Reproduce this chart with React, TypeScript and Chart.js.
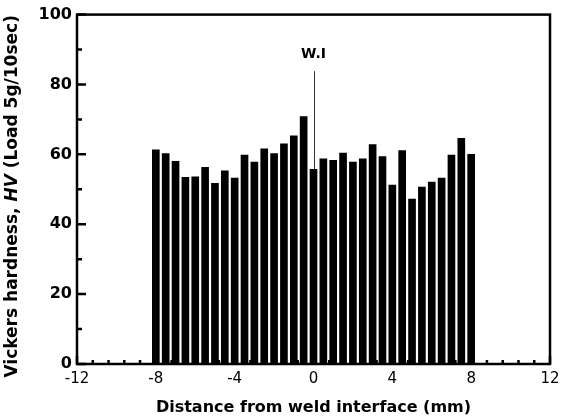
import React, { useEffect, useRef } from "react";
import { Chart, registerables } from "chart.js";

Chart.register(...registerables);

// Positions (mm) and Vickers hardness values
const positions: number[] = [
  -8, -7.5, -7, -6.5, -6, -5.5, -5, -4.5, -4, -3.5, -3, -2.5, -2, -1.5, -1, -0.5,
  0, 0.5, 1, 1.5, 2, 2.5, 3, 3.5, 4, 4.5, 5, 5.5, 6, 6.5, 7, 7.5, 8,
];
const hardness: number[] = [
  61.3, 60.2, 58.0, 53.4, 53.6, 56.3, 51.7, 55.3, 53.2, 59.8, 57.8, 61.6, 60.2, 63.0, 65.3, 70.8,
  55.7, 58.7, 58.3, 60.4, 57.8, 58.7, 62.8, 59.4, 51.2, 61.1, 47.2, 50.6, 52.1, 53.2, 59.8, 64.6, 60.0,
];

const xMajorTicks: number[] = [-12, -8, -4, 0, 4, 8, 12];
const xMinorTicks: number[] = [
  -11.2, -10.4, -9.6, -8.8, -7.2, -6.4, -5.6, -4.8, -3.2, -2.4, -1.6, -0.8,
  0.8, 1.6, 2.4, 3.2, 4.8, 5.6, 6.4, 7.2, 8.8, 9.6, 10.4, 11.2,
];
const yMajorTicks: number[] = [0, 20, 40, 60, 80, 100];
const yMinorTicks: number[] = [10, 30, 50, 70, 90];

const wiLabel = "W.I";
const wiX = 0;
const wiLineTop = 83.8;
const wiLabelY = 88.6;

const xTitle = "Distance from weld interface (mm)";
const yTitleParts: { text: string; italic: boolean }[] = [
  { text: "Vickers hardness, ", italic: false },
  { text: "HV", italic: true },
  { text: " (Load 5g/10sec)", italic: false },
];

const FONT = "'DejaVu Sans', Verdana, sans-serif";

const decorPlugin = {
  id: "decor",
  beforeDatasetsDraw(chart: any) {
    const { ctx, chartArea: a, scales } = chart;
    const x = scales.x;
    const y = scales.y;
    ctx.save();
    ctx.strokeStyle = "#000";
    ctx.lineWidth = 2.5;
    ctx.lineCap = "butt";
    ctx.beginPath();
    for (const v of xMajorTicks) {
      const px = x.getPixelForValue(v);
      ctx.moveTo(px, a.bottom);
      ctx.lineTo(px, a.bottom - 8);
    }
    for (const v of xMinorTicks) {
      const px = x.getPixelForValue(v);
      ctx.moveTo(px, a.bottom);
      ctx.lineTo(px, a.bottom - 4);
    }
    for (const v of yMajorTicks) {
      const py = y.getPixelForValue(v);
      ctx.moveTo(a.left, py);
      ctx.lineTo(a.left + 9, py);
    }
    for (const v of yMinorTicks) {
      const py = y.getPixelForValue(v);
      ctx.moveTo(a.left, py);
      ctx.lineTo(a.left + 5, py);
    }
    ctx.stroke();
    ctx.restore();
  },
  afterDatasetsDraw(chart: any) {
    const { ctx, chartArea: a, scales } = chart;
    const x = scales.x;
    const y = scales.y;
    ctx.save();
    // frame
    ctx.strokeStyle = "#000";
    ctx.lineWidth = 2.5;
    ctx.strokeRect(a.left, a.top, a.right - a.left, a.bottom - a.top);

    // W.I marker line
    const idx = positions.indexOf(wiX);
    const px = Math.round(x.getPixelForValue(wiX)) + 0.5;
    ctx.strokeStyle = "#333";
    ctx.lineWidth = 1;
    ctx.beginPath();
    ctx.moveTo(px, y.getPixelForValue(wiLineTop));
    ctx.lineTo(px, y.getPixelForValue(hardness[idx]));
    ctx.stroke();

    ctx.fillStyle = "#000";
    ctx.font = `bold 14px ${FONT}`;
    ctx.textAlign = "center";
    ctx.textBaseline = "middle";
    ctx.fillText(wiLabel, x.getPixelForValue(wiX), y.getPixelForValue(wiLabelY));

    // y title with italic part
    ctx.translate(13, (a.top + a.bottom) / 2 + 7);
    ctx.rotate(-Math.PI / 2);
    const fonts = yTitleParts.map((p) => `${p.italic ? "italic " : ""}bold 17px ${FONT}`);
    let total = 0;
    const widths = yTitleParts.map((p, i) => {
      ctx.font = fonts[i];
      const w = ctx.measureText(p.text).width;
      total += w;
      return w;
    });
    let cx = -total / 2;
    ctx.textAlign = "left";
    ctx.textBaseline = "middle";
    yTitleParts.forEach((p, i) => {
      ctx.font = fonts[i];
      ctx.fillText(p.text, cx, 0);
      cx += widths[i];
    });
    ctx.restore();
  },
};

export default function App() {
  const ref = useRef<HTMLCanvasElement | null>(null);

  useEffect(() => {
    if (!ref.current) return;
    const chart = new Chart(ref.current, {
      type: "bar",
      data: {
        datasets: [
          {
            data: positions.map((p, i) => ({ x: p, y: hardness[i] })),
            backgroundColor: "#000",
            borderWidth: 0,
            barThickness: 7,
          },
        ],
      },
      options: {
        responsive: false,
        animation: false,
        layout: { padding: { top: 13, right: 18, left: 0, bottom: 0 } },
        plugins: {
          legend: { display: false },
          tooltip: { enabled: false },
        },
        scales: {
          x: {
            type: "linear",
            offset: false,
            min: -12,
            max: 12,
            grid: { display: false, drawTicks: false, offset: false },
            border: { display: false },
            ticks: {
              stepSize: 4,
              color: "#000",
              padding: 6,
              font: { family: FONT, size: 15 },
            },
            title: {
              display: true,
              text: xTitle,
              color: "#000",
              font: { family: FONT, size: 16, weight: "bold" },
              padding: { top: 0, bottom: 2 },
            },
            afterFit(scale: any) {
              scale.height = 55;
            },
          },
          y: {
            type: "linear",
            min: 0,
            max: 100,
            grid: { display: false, drawTicks: false },
            border: { display: false },
            ticks: {
              stepSize: 20,
              color: "#000",
              padding: 5,
              font: { family: FONT, size: 16, weight: "bold" },
            },
            afterFit(scale: any) {
              scale.width = 77;
            },
          },
        },
      },
      plugins: [decorPlugin],
    } as any);
    return () => chart.destroy();
  }, []);

  return (
    <div style={{ position: "fixed", left: 0, top: 0, width: 568, height: 419, background: "#fff" }}>
      <canvas ref={ref} width={568} height={419} />
    </div>
  );
}
